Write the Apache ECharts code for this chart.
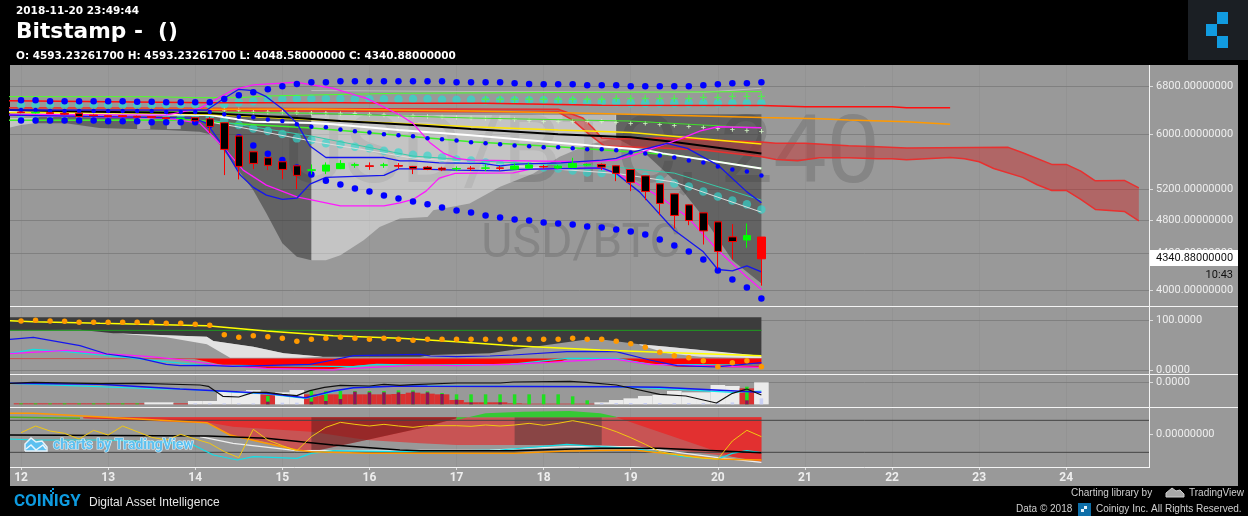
<!DOCTYPE html>
<html><head><meta charset="utf-8">
<style>html,body{margin:0;padding:0;background:#000;overflow:hidden}#c{width:1248px;height:516px}</style>
<script src="https://cdn.jsdelivr.net/npm/echarts@6/dist/echarts.min.js"></script>
</head><body><div id="c"></div>
<script>
// ---------- axis labels ----------
const dayLabels = ['12','13','14','15','16','17','18','19','20','21','22','23','24'];
const priceTicks = [4000,4400,4800,5200,6000,6800];
// ---------- candles (bar index 0..51, 4h bars) ----------
const candleOpen = [6355,6340,6345,6335,6335,6305,6295,6295,6285,6280,6262,6248,6262,6245,6181,5971,5732,5643,5585,5527,5462,5451,5486,5535,5527,5535,5530,5518,5508,5494,5482,5493,5492,5497,5479,5494,5516,5494,5504,5538,5547,5527,5475,5385,5274,5139,4994,4891,4778,4595,4558,4593];
const candleClose = [6345,6350,6330,6320,6280,6295,6280,6282,6272,6268,6250,6255,6213,6123,5768,5518,5561,5533,5475,5391,5470,5537,5561,5542,5518,5540,5522,5484,5475,5469,5488,5486,5497,5491,5523,5537,5510,5523,5561,5544,5508,5419,5294,5171,5012,4858,4795,4667,4424,4540,4611,4341];
const candleLow = [6335,6330,6325,6310,6270,6285,6270,6272,6262,6258,6240,6240,6195,6022,5395,5335,5479,5465,5339,5202,5405,5409,5480,5497,5470,5497,5486,5409,5465,5451,5451,5455,5451,5461,5475,5490,5486,5479,5494,5523,5465,5311,5175,5055,4862,4696,4737,4505,4233,4333,4466,4048];
const candleHigh = [6365,6360,6350,6340,6340,6315,6305,6305,6295,6290,6272,6265,6275,6274,6190,5980,5740,5650,5590,5530,5547,5576,5609,5570,5576,5570,5566,5525,5523,5513,5518,5523,5551,5523,5561,5570,5541,5541,5643,5561,5561,5535,5480,5390,5280,5145,5000,4897,4785,4750,4758,4593];
// ---------- main pane dots ----------
const bbUpperDots = [6552,6552,6535,6535,6535,6535,6535,6535,6528,6528,6518,6518,6518,6518,6574,6638,6690,6742,6795,6836,6866,6866,6884,6884,6884,6884,6884,6884,6884,6884,6866,6866,6866,6866,6849,6836,6831,6831,6831,6813,6813,6813,6795,6795,6795,6795,6795,6813,6831,6849,6849,6866];
const bbLowerDots = [6219,6219,6219,6219,6219,6219,6203,6203,6203,6187,6187,6187,6187,6144,6064,5951,5828,5702,5609,5504,5405,5315,5266,5211,5171,5117,5078,5038,5000,4960,4921,4896,4858,4833,4808,4795,4770,4758,4746,4721,4708,4684,4659,4623,4563,4494,4424,4333,4211,4113,4028,3915];
const bbMidDots = [6389,6389,6372,6372,6372,6372,6372,6372,6372,6372,6356,6356,6356,6356,6318,6278,6268,6235,6208,6155,6117,6107,6075,6044,6028,5997,5982,5966,5935,5920,5904,5874,5859,5844,5828,5813,5798,5798,5783,5768,5768,5753,5723,5708,5677,5647,5605,5576,5518,5475,5447,5391];
const turqUpperDots = [6472,6472,6472,6472,6472,6472,6472,6472,6472,6472,6480,6480,6480,6480,6483,6518,6535,6569,6569,6579,6579,6579,6579,6569,6569,6569,6569,6574,6574,6562,6562,6562,6552,6552,6552,6552,6552,6535,6535,6518,6518,6518,6501,6501,6501,6501,6501,6501,6501,6501,6501,6501];
const turqLowerDots = [6315,6315,6315,6315,6315,6315,6315,6315,6315,6315,6315,6315,6315,6278,6224,6144,6091,6048,6002,5935,5909,5859,5844,5807,5783,5747,5723,5687,5673,5647,5619,5605,5576,5547,5533,5523,5504,5490,5461,5433,5423,5409,5395,5371,5335,5280,5239,5171,5104,5051,5000,4934];
const greenPlusDots = [[32,6569],[33,6569],[34,6569],[35,6569],[36,6569],[37,6569],[38,6569],[39,6569],[40,6569],[41,6585],[42,6585],[43,6585],[44,6585],[45,6585],[46,6585],[47,6602],[48,6602],[49,6619],[50,6619],[51,6619]];
const palePlusDots = [[14,6389],[15,6389],[16,6351],[17,6351],[18,6351],[19,6344],[20,6335],[21,6335],[22,6328],[23,6328],[24,6315],[25,6306],[26,6295],[27,6290],[28,6282],[29,6274],[30,6265],[31,6257],[32,6249],[33,6240],[34,6235],[35,6219],[36,6203],[37,6203],[38,6203],[39,6203],[40,6203],[41,6187],[42,6171],[43,6171],[44,6155],[45,6139],[46,6123],[47,6107],[48,6091],[49,6075],[50,6059],[51,6044]];
// ---------- main pane lines: [bar index, price] as read ----------
const redLine = [[-1,6545],[13,6511],[22,6511],[27,6501],[32,6501],[40,6468],[51,6462],[54,6445],[60,6445],[61,6427],[64,6427]];
const orangeLine = [[-1,6394],[20,6406],[31,6372],[39,6335],[44,6306],[51,6265],[55,6245],[57,6224],[61,6197],[64,6155]];
const greenTop = [[-1,6614],[9,6614],[12,6597],[15,6597],[17,6626],[26,6673],[51,6701]];
const greyTop = [[20,6720],[33,6700],[47,6690],[51,6760]];
const yellowLine = [[-1,6348],[8,6340],[13,6318],[19,6240],[27,6160],[31,6117],[37,6064],[42,6028],[51,5848]];
const blackLine = [[-1,6389],[5,6361],[13,6335],[19,6257],[22,6208],[27,6144],[31,6080],[37,5997],[42,5951],[45,5879],[51,5708]];
const whiteLine = [[-1,6356],[13,6306],[16,6197],[20,6176],[21.5,6155],[26,6064],[31,5982],[38,5848],[43,5757],[44.2,5708],[51,5489]];
const greenLow = [[-1,6219],[12,6224],[14,6176],[20,6096],[25,6002],[31,5883],[37,5807],[45,5683],[51,5487]];
const greenMid = [[-1,6372],[13,6356],[20,6335],[31,6257],[42,6208],[47,6144],[51,6096]];
const tealLine = [[13,6224],[20,5971],[27,5668],[33,5580],[41,5508],[45,5423],[51,5055]];
const paleLine = [[13,6192],[15,6112],[20,5894],[27,5639],[33,5537],[41,5419],[45,5298],[48,5094],[51,4900]];
const magentaUp = [[-1,6318],[10,6306],[12.3,6417],[14.6,6730],[16,6818],[19,6866],[21.5,6760],[23.8,6586],[26.1,6306],[27,6171],[28.2,5863],[29.1,5713],[30,5634],[31,5609],[39,5585],[41,5609],[42.2,5683],[43.8,5807],[45.2,5909],[46.8,6053],[48,6117],[51,6101]];
const magentaLow = [[-1,6306],[10,6257],[12.3,6176],[14,5787],[15.3,5465],[16.9,5256],[19,5099],[22,4981],[25,4981],[26.1,5020],[27,5064],[27.9,5175],[28.8,5353],[29.9,5419],[33.9,5427],[35,5475],[39.9,5498],[41,5419],[42.2,5302],[44,5099],[45.9,4841],[48,4439],[50,4141],[51,4007]];
const blueUp = [[-1,6389],[12.8,6389],[14,6586],[15,6742],[16,6718],[16.9,6614],[18.1,6389],[19,6171],[19.9,5818],[21,5647],[25,5647],[26.1,5599],[27,5599],[28.8,5570],[31.8,5561],[33,5527],[34.2,5551],[37.2,5570],[40,5609],[41,5634],[42.2,5732],[44.5,5859],[45.9,5783],[48,5537],[50,5165],[51,5020]];
const blueLow = [[-1,6306],[11.9,6257],[12.8,6171],[14,5787],[15.1,5395],[16,5226],[16.9,5122],[18,5064],[19,5081],[19.9,5270],[21,5363],[25,5391],[26,5483],[27,5483],[30,5465],[33,5455],[34.2,5475],[40,5498],[41,5419],[42.6,5165],[45,4675],[47,4420],[48,4222],[49,4206],[50,4262],[51,4195]];
const ribbonUpper = [[-1,6427],[37,6400],[38.7,6257],[39.4,6096],[40,5940],[41,5924],[44,5940],[51,5879],[52,5859],[54,5859],[57,5822],[59,5807],[61,5787],[68,5798],[69,5717],[71,5547],[72,5547],[73,5451],[74,5315],[76,5321],[77,5220]];
const ribbonLower = [[-1,6389],[37,6356],[38,6224],[39.2,5986],[40.2,5818],[44,5787],[47,5757],[51,5658],[52,5619],[53.5,5599],[55,5643],[57,5643],[59,5628],[60,5628],[61,5613],[64,5647],[65,5628],[66,5585],[67,5489],[69,5363],[70,5261],[71,5184],[72,5184],[73,5064],[74,4934],[76,4909],[77,4790]];
// ---------- main pane cloud ----------
const cloudLeftTop = [[0.9,6274],[13,6290],[20,6306]];
const cloudLeftBottom = [[0.9,6171],[3.1,6171],[5.4,6096],[10,6064],[12.3,6038],[13.2,5986],[14.6,5566],[16,5188],[16.9,4887],[18,4520],[19,4363],[20,4325]];
const edgeTop = [[-1,6257],[0.9,6257]];
const edgeBottom = [[-1,6091],[0,6144],[0.9,6171]];
const patchOneTop = [[8,6257],[8.9,6257]];
const patchOneBottom = [[8,6080],[8.9,6080]];
const patchTwoTop = [[10.05,6257],[11,6257]];
const patchTwoBottom = [[10.05,6080],[11,6080]];
const cloudMidTop = [[20,6306],[41,6306]];
const cloudMidBottom = [[20,4325],[21,4325],[22,4382],[23.6,4555],[24.7,4716],[26.1,4820],[28,4840],[28.4,4925],[30.9,5012],[33,5233],[35.3,5419],[37.1,5658],[39,5833],[41,5940]];
const cloudRightTop = [[41,6318],[51,6318]];
const cloudRightBottom = [[41,5940],[43,5708],[45,5325],[47,4840],[49,4325],[51,4070]];
// ---------- pane 2 ----------
const p2Ticks = [0,100];
const p2Dots = [98,99.3,98,97.3,95.3,95.3,95.3,95.3,95.3,95.3,93.3,93.3,91.3,89.3,70.7,65.3,68.7,66.7,63.3,57.3,61.3,63.3,65.3,63.3,61.3,63.3,61.3,59.3,61.3,61.3,61.3,61.3,61.3,61.3,61.3,61.3,61.3,61.3,63.3,61.3,61.3,57.3,52.7,45.3,35.3,28.7,24.7,18.7,6.7,14.7,18.7,6.7];
const p2Yellow = [[-0.76,98.7],[0.85,96.7],[5.44,93.3],[12.8,88.7],[16.9,78],[21.5,68.7],[26.1,63.3],[30,56.7],[33.9,48.7],[39.9,40],[44,35.3],[51,28.7]];
const p2Blue = [[-0.76,61.3],[0.85,65.3],[4.06,48.7],[5.9,32],[8.2,23.3],[10,11.3],[10.95,8.7],[12.8,9.3],[14.6,7.3],[19.9,11.3],[21.5,20],[22.9,28.7],[27.5,31.3],[28.2,28],[30,26.7],[32.3,28],[33.9,30],[37.6,36.7],[41,36.7],[43.3,20],[45.2,8.7],[47.9,6],[51,14.7]];
const p2Magenta = [[-0.76,32.7],[3.15,39.3],[5.44,33.3],[8.9,26.7],[11.2,20],[13.5,10],[16.9,3.3],[21.5,0],[23.8,4.7],[27.5,10],[30,8.7],[33.7,11.3],[36.4,15.3],[39.9,21.3],[41,21.3],[43.3,11.3],[51,5.3]];
const p2Cyan = [[-0.76,33.3],[0.85,41.3],[3.15,36.7],[5.44,30],[10,16.7],[12.33,10],[22.9,6.7],[24.5,11.3],[27.5,10],[33.7,11.3],[37.6,23.3],[41,23.3],[43.3,11.3],[51,10]];
const p2RedRule = [[-0.76,22.7],[51,22.7]];
const p2GreenRule = [[-0.76,79.3],[51,79.3]];
const p2DarkTop = [[-0.76,105.3],[51,105.3]];
const p2DarkBottom = [[-0.76,79.3],[4.06,80.7],[6.36,73.3],[12.8,66.7],[13.25,58],[16,46.7],[18.1,33.3],[20.8,26.7],[27.5,26.7],[28.2,30],[32.3,33.3],[34.6,43.3],[38.7,60],[40.3,60],[42.6,51.3],[44.5,46.7],[46.8,40],[51,26.7]];
const p2WhiteATop = [[4.06,80.7],[6.36,73.3],[12.8,66.7],[13.25,58],[16,46.7],[18.1,33.3],[20.8,26.7]];
const p2WhiteABottom = [[4.06,80.7],[6.36,73.3],[10,65.3],[12.8,51.3],[14.4,24.7],[19.2,24.7],[20.8,26.7]];
const p2WhiteBTop = [[42.6,51.3],[44.5,46.7],[46.8,40],[51,28.7]];
const p2WhiteBBottom = [[42.6,50],[44.5,33.3],[46.8,26.7],[51,23.3]];
const p2RedATop = [[11.87,22.7],[37.8,22.7]];
const p2RedABottom = [[11.87,22.7],[14.2,8],[16.9,3.3],[21.5,2],[22.9,8],[24.3,11.3],[27.5,10],[30.7,10],[33.9,13.3],[37.1,16.7],[37.8,23.3]];
const p2RedBTop = [[41,23],[51,23]];
const p2RedBBottom = [[41,22],[43.3,13.3],[45.2,6.7],[49,5.3],[51,5.3]];
// ---------- pane 3 ----------
const histValues = [3,3,3,3,3,3,3,3,3,6,6,3,10,10,38,40,43,30,36,43,30,30,30,30,30,30,31,35,32,30,13,6,6,6,3,2,2,2,2,2,6,13,18,25,28,40,36,36,58,55,48,66];
const histKinds = 'rrrrrrrrrwwrwwwwwrwwrrrrrrrrrrrrrrrrrrrrwwwwwwwwwwrw';
const histGreen = [[0,3],[1,3],[2,3],[3,3],[4,3],[5,3],[6,3],[7,3],[8,3],[17,25],[20,40],[21,40],[22,40],[23,40],[24,40],[25,40],[26,42],[27,42],[28,39],[29,34],[30,30],[31,30],[32,30],[33,30],[34,30],[35,30],[36,30],[37,30],[38,24],[39,12],[50,53]];
const histPurple = [[17,8],[20,8],[21,10],[22,16],[23,38],[24,36],[25,36],[26,36],[27,38],[28,36],[29,31],[30,14],[31,6],[33,6],[50,12]];
const histPale = [[12,3],[13,3],[14,3],[15,3],[16,3],[18,5],[19,5],[40,4],[41,4],[42,4],[43,4],[44,4],[45,4],[46,4],[47,4],[48,4],[49,6],[51,18]];
const macdBlack = [[-0.76,-30],[0.85,0],[5.44,-40],[8.2,-30],[12.33,-80],[12.9,-120],[13.9,-420],[15,-440],[16,-300],[16.9,-300],[18,-360],[19,-400],[19.9,-250],[20.9,-150],[22,-90],[24,-110],[25,-60],[26.1,-90],[27,-70],[30,-20],[33,-20],[33.9,10],[37.8,30],[38.96,0],[41,-80],[44,-360],[45.8,-410],[47.9,-620],[49,-330],[50,-200],[51,-380]];
const macdBlue = [[-0.76,-30],[5.44,-60],[10.95,-200],[16.9,-330],[19.6,-460],[21.5,-260],[22.9,-160],[26.1,-110],[28,-120],[41,-130],[44,-150],[51,-300]];
const macdCyan = [[-0.76,-30],[9.6,-200],[10.95,-200],[16.9,-350],[19.6,-480],[21.5,-280],[22.9,-160],[26.1,-110],[41,-130],[44,-180],[49,-300],[51,-260]];
// ---------- pane 4 ----------
const p4Yellow = [4,24,9,2,-15,11,-3,24,7,-10,-18,-1,-15,-28,-53,-71,14,-18,-35,-50,-8,20,35,29,24,29,24,20,25,25,25,23,27,24,27,32,26,32,40,32,22,7,-11,-31,-53,-61,-68,-73,-75,-21,11,-8];
const p4Orange = [[-0.76,62],[0.85,62],[4.29,54],[12.8,34],[14.4,-3],[16.9,-28],[19,-48],[20,-53],[23.8,-58],[27.5,-58],[34,-58],[37.6,-51],[42.2,-48],[47.9,-75],[51,-78]];
const p4GreenShort = [[-0.76,50],[4.06,47]];
const p4Cyan = [[-0.76,-15],[0.85,-18],[5.9,-18],[10,-25],[11.87,-33],[13.25,-63],[14.9,-78],[16,-68],[19,-73],[20,-58],[21.5,-50],[26.1,-53],[33,-48],[37.6,-31],[39.9,-38],[42.2,-43],[45.6,-68],[48,-75],[49,-58],[50,-50],[51,-56]];
const p4White = [[12.33,-8],[14.6,-28],[19,-50],[32.3,-48],[37.6,-38],[42.2,-38],[48,-71],[51,-85]];
const p4Black = [[-0.76,-3],[12.9,-6],[16.9,-13],[21.5,-33],[26.1,-48],[27.5,-50],[33.9,-50],[39.9,-43],[44,-43],[51,-56]];
const p4RuleHigh = [[-0.76,41],[77.7,41]];
const p4RuleLow = [[-0.76,-55],[77.7,-55]];
const p4PinkTop = [[4.29,50],[51,50]];
const p4PinkBottom = [[4.29,47],[12.8,32],[14.6,-5],[16.9,-25],[19,-48],[20,-53],[23.8,-18],[27.5,-28],[30,-33],[34,-33],[40,-33],[44,-43],[49,-68],[51,-78]];
const p4RedATop = [[4.29,50],[30,50]];
const p4RedABottom = [[4.29,47],[12.8,35],[14.6,22],[20,7],[23.8,-18],[27.5,17],[30,47]];
const p4RedBTop = [[41,50],[51,50]];
const p4RedBBottom = [[41,50],[49,-68],[51,-83]];
const p4DarkATop = [[20,50],[30,50]];
const p4DarkABottom = [[20,-53],[23.8,-18],[27.5,17],[30,47]];
const p4DarkBTop = [[34,50],[40,50]];
const p4DarkBBottom = [[34,-33],[40,-33]];
const p4GreenTop = [[30,42],[32,62],[34.6,67],[37.8,69],[39.9,62],[41,52]];
const p4GreenBottom = [[30,50],[41,50]];

const XMIN = -0.76, XMAX = 77.7;
const dayIdx = dayLabels.map((d,i)=>i*6);
const PLUS = 'path://M4 0h2v4h4v2h-4v4h-2v-4h-4v-2h4z';
const chart = echarts.init(document.getElementById('c'), null, {width:1248,height:516});

const withIdx = a => a.map((v,i)=>[i,v]);
const line = (d,color,width,g,z) => ({type:'line',data:d,xAxisIndex:g,yAxisIndex:g,showSymbol:false,symbol:'none',silent:true,animation:false,clip:true,z:z||4,lineStyle:{color,width:width||1}});
const dots = (d,color,size,g,opacity,sym,z) => ({type:'scatter',data:d,xAxisIndex:g,yAxisIndex:g,symbol:sym||'circle',symbolSize:size,silent:true,animation:false,z:z||3,itemStyle:{color,opacity:opacity==null?1:opacity}});
const band = (up,low,fill,g,z) => ({type:'custom',xAxisIndex:g,yAxisIndex:g,silent:true,animation:false,clip:true,z:z||1,
  data:[[up[0][0],up[0][1]]],encode:{x:0,y:1},
  renderItem:(p,api)=>({type:'polygon',shape:{points:up.concat(low.slice().reverse()).map(q=>api.coord(q))},style:{fill}})});

const DARK='rgba(45,45,45,0.5)', LIGHT='rgba(255,255,255,0.42)';
const candles = candleOpen.map((o,i)=>{
  const item={value:[i,o,candleClose[i],candleLow[i],candleHigh[i]]};
  if(i===candleOpen.length-1) item.itemStyle={color0:'#ff0000',borderColor0:'#ff0000'};
  return item;
});

const series = [
  band(edgeTop,edgeBottom,LIGHT,0),
  band(cloudLeftTop,cloudLeftBottom,DARK,0),
  band(patchOneTop,patchOneBottom,LIGHT,0),
  band(patchTwoTop,patchTwoBottom,LIGHT,0),
  band(cloudMidTop,cloudMidBottom,LIGHT,0),
  band(cloudRightTop,cloudRightBottom,DARK,0),
  band(ribbonUpper,ribbonLower,'rgba(205,40,40,0.45)',0,2),
  line(ribbonUpper,'#e8302f',1.5,0,3),
  line(ribbonLower,'#e8302f',1.5,0,3),
  line(greyTop,'#bdbdbd',1,0),
  line(greenTop,'#4dff2a',1,0),
  line(greenMid,'#3fe02a',1,0),
  line(greenLow,'#3fee2a',1.5,0),
  line(tealLine,'#39c9a8',1,0),
  line(paleLine,'#dddddd',1,0),
  line(orangeLine,'#ff9900',1.5,0),
  line(redLine,'#ff1010',1.5,0),
  line(whiteLine,'#ffffff',2,0),
  line(yellowLine,'#ffe600',1.5,0),
  line(blackLine,'#000000',2,0),
  dots(withIdx(turqUpperDots),'#2fd8cf',8.5,0,0.75),
  dots(withIdx(turqLowerDots),'#2fd8cf',8.5,0,0.65),
  dots(greenPlusDots,'#55e855',7,0,1,PLUS),
  dots(palePlusDots,'#d3f5c5',4.5,0,1,PLUS),
  line(magentaUp,'#ff18ff',1.3,0,5),
  line(magentaLow,'#ff18ff',1.3,0,5),
  line(blueUp,'#1515ee',1.3,0,5),
  line(blueLow,'#1515ee',1.3,0,5),
  dots(withIdx(bbUpperDots),'#0000ff',6.5,0,1,null,6),
  dots(withIdx(bbLowerDots),'#0000ff',6.5,0,1,null,6),
  dots(withIdx(bbMidDots),'#0000ff',4.5,0,1,null,6),
  {type:'candlestick',xAxisIndex:0,yAxisIndex:0,data:candles,barWidth:8,silent:true,animation:false,z:7,clip:true,
   itemStyle:{color:'#00ff00',color0:'#000000',borderColor:'#00ff00',borderColor0:'#ff0000',borderWidth:1}},
  // pane 2
  band(p2DarkTop,p2DarkBottom,'#3c3c3c',1),
  band(p2WhiteATop,p2WhiteABottom,'#e2e2e2',1),
  band(p2WhiteBTop,p2WhiteBBottom,'#e2e2e2',1),
  band(p2RedATop,p2RedABottom,'#ff0000',1,2),
  band(p2RedBTop,p2RedBBottom,'#ff0000',1,2),
  line(p2RedRule,'#c85050',1,1,3),
  line(p2GreenRule,'#1f9a1f',1,1,3),
  line(p2Cyan,'#10e0e0',1.2,1),
  line(p2Magenta,'#ff18ff',1.2,1),
  line(p2Blue,'#1515ee',1.2,1),
  line(p2Yellow,'#ffff00',1.5,1),
  dots(withIdx(p2Dots),'#ff9900',5.5,1,1,null,5),
  // pane 3
  {type:'bar',xAxisIndex:2,yAxisIndex:4,barWidth:14.6,silent:true,animation:false,z:1,
   data:histValues.map((v,i)=>({value:[i,v],itemStyle:{color:histKinds[i]==='w'?'#ececec':'#d93030'}}))},
  {type:'bar',xAxisIndex:4,yAxisIndex:4,barWidth:3.5,barGap:'-100%',silent:true,animation:false,z:2,data:histGreen,itemStyle:{color:'#1fe01f'}},
  {type:'bar',xAxisIndex:4,yAxisIndex:4,barWidth:3.5,barGap:'-100%',silent:true,animation:false,z:2,data:histPurple,itemStyle:{color:'#930f58'}},
  {type:'bar',xAxisIndex:4,yAxisIndex:4,barWidth:3.5,barGap:'-100%',silent:true,animation:false,z:2,data:histPale,itemStyle:{color:'#c9d0f5'}},
  line(macdCyan,'#10e8f0',1.2,2),
  line(macdBlue,'#1515ee',1.5,2),
  line(macdBlack,'#111111',1.2,2),
  // pane 4
  band(p4PinkTop,p4PinkBottom,'rgb(200,84,84)',3),
  band(p4RedATop,p4RedABottom,'rgb(226,48,48)',3),
  band(p4RedBTop,p4RedBBottom,'rgb(226,48,48)',3),
  band(p4DarkATop,p4DarkABottom,'rgba(40,30,30,0.4)',3),
  band(p4DarkBTop,p4DarkBBottom,'rgba(50,50,50,0.42)',3),
  band(p4GreenTop,p4GreenBottom,'#35c935',3),
  line(p4RuleHigh,'#444444',1,3,2),
  line(p4RuleLow,'#444444',1,3,2),
  line(p4GreenShort,'#4fb020',1.5,3),
  line(p4White,'#eeeeee',1.2,3),
  line(p4Cyan,'#12dfe8',1.2,3),
  line(p4Orange,'#ff9900',1.5,3),
  line(p4Black,'#000000',1.5,3),
  line(withIdx(p4Yellow),'#f2c811',1,3,5)
];

const grids=[{left:10,right:99,top:65,height:241},{left:10,right:99,top:308,height:66},{left:10,right:99,top:376,height:31},{left:10,right:99,top:408,height:59}];
const xBase=i=>({type:'value',gridIndex:i,min:XMIN,max:XMAX,
  axisLine:{show:false,onZero:false},axisTick:{show:false,customValues:dayIdx},
  splitLine:{show:true,lineStyle:{color:'rgba(120,120,120,0.18)',width:1}},
  axisLabel:{show:false,customValues:dayIdx}});
const xAxes=[xBase(0),xBase(1),xBase(2),
 Object.assign(xBase(3),{axisTick:{show:true,length:3,lineStyle:{color:'#dddddd'},customValues:dayIdx},
  axisLabel:{show:true,customValues:dayIdx,margin:5,color:'#eeeeee',fontFamily:'Roboto',fontWeight:'bold',fontSize:12,formatter:v=>dayLabels[Math.round(v/6)]}}),
 Object.assign(xBase(2),{show:false})];
const yBase=(i,min,max,ticks,fmt,extra)=>Object.assign({type:'value',gridIndex:i,position:'right',min,max,
  axisLine:{show:false,onZero:false},axisTick:{show:true,length:4,lineStyle:{color:'#dddddd'},customValues:ticks},
  splitLine:{show:true,lineStyle:{color:'#808080',width:1}},
  axisLabel:{customValues:ticks,margin:7,padding:[4,0,0,0],color:'#eeeeee',fontFamily:'Roboto',fontSize:11,formatter:fmt}},extra||{});
const yAxes=[
 yBase(0,3840,7181,priceTicks,v=>Number(v).toFixed(8),{type:'log',logBase:Math.E}),
 yBase(1,-8,124,p2Ticks,v=>Number(v).toFixed(4)),
 yBase(2,-740,190,[0],v=>'0.0000'),
 yBase(3,-99,78,[0],v=>'0.00000000',{splitLine:{show:false}}),
 {type:'value',gridIndex:2,min:-8,max:85,show:false,splitLine:{show:false}}
];
const T=(x,y,text,o)=>({type:'text',x,y,silent:true,z:(o&&o.z)||50,style:Object.assign({text,fill:'#fff',font:'11px "Liberation Sans"',textVerticalAlign:'middle'},o||{})});
const R=(x,y,w,h,fill,z)=>({type:'rect',silent:true,z:z==null?50:z,shape:{x,y,width:w,height:h},style:{fill}});
const H=(x1,x2,y,c)=>({type:'line',silent:true,z:40,shape:{x1,y1:y,x2,y2:y},style:{stroke:c||'#f4f4f4',lineWidth:1}});
const graphic=[
 R(10,65,1228,421,'#999999',-20),
 {type:'text',silent:true,z:-10,x:880,y:206,style:{text:'USD/BTC, 240',fill:'#858585',font:'95px Roboto',textAlign:'right',textVerticalAlign:'bottom'}},
 {type:'text',silent:true,z:-10,x:581,y:269,style:{text:'USD/BTC',fill:'#858585',font:'48px Roboto',textAlign:'center',textVerticalAlign:'bottom'}},
 H(10,1238,306.5),H(10,1238,374.5),H(10,1238,407.5),H(10,1149,467.5),
 {type:'line',silent:true,z:40,shape:{x1:1149.5,y1:65,x2:1149.5,y2:468},style:{stroke:'#f4f4f4',lineWidth:1}},
 R(1150,250,88,16,'#ffffff'),
 T(1156,258,'4340.88000000',{fill:'#111',font:'11px Roboto',z:51}),
 T(1233,275,'10:43',{fill:'#111',font:'11px Roboto',textAlign:'right'}),
 // header
 T(16,11,'2018-11-20 23:49:44',{font:'bold 10.5px "DejaVu Sans"'}),
 T(16,32,'Bitstamp -  ()',{font:'bold 21.7px "DejaVu Sans"'}),
 T(16,56,'O: 4593.23261700 H: 4593.23261700 L: 4048.58000000 C: 4340.88000000',{font:'bold 10.47px "DejaVu Sans"'}),
 R(1188,0,60,60,'#1b1f24'),
 R(1217,12,11,12,'#119be0',51),R(1206,24,11,12,'#119be0',51),R(1217,36,11,12,'#119be0',51),
 // tradingview mark in chart
 {type:'polyline',silent:true,z:60,shape:{points:[[25,451],[25,444],[31,438],[36,442],[42,441],[47,447],[47,451],[25,451]]},style:{fill:'#5cc0f0',stroke:'#e8f4fb',lineWidth:1.5}},
 {type:'polyline',silent:true,z:61,shape:{points:[[26,449],[31,445],[36,450],[43,445],[46,449]]},style:{fill:'none',stroke:'#eaf6fc',lineWidth:1.5}},
 T(53,445,'charts by TradingView',{font:'bold 14px Roboto',fill:'#5cc0f0',stroke:'#dff1fa',lineWidth:1.2,z:60}),
 // footer
 T(14,502,'COINIGY',{font:'bold 17px Roboto',fill:'#0e9be0'}),
 R(52,488,2,2,'#0e9be0'),R(50,490,2,2,'#0e9be0'),R(52,492,2,2,'#0e9be0'),
 T(89,503,'Digital Asset Intelligence',{font:'12px "Liberation Sans"',fill:'#e6e6e6',letterSpacing:0.35}),
 T(1071,493,'Charting library by',{font:'10px "Liberation Sans"',fill:'#cfcfcf',letterSpacing:0.55}),
 {type:'polyline',silent:true,z:50,shape:{points:[[1166,497],[1166,493],[1172,488],[1176,491],[1180,490],[1184,494],[1184,497],[1166,497]]},style:{fill:'#a9a9a9',stroke:'#cfcfcf',lineWidth:1}},
 T(1189,493,'TradingView',{font:'10px "Liberation Sans"',fill:'#cfcfcf',letterSpacing:0.4}),
 T(1016,509,'Data © 2018',{font:'10px "Liberation Sans"',fill:'#cfcfcf',letterSpacing:0.4}),
 R(1078,503,13,13,'#0d6ea8'),R(1084,506,3,3,'#e8f4fb',51),R(1081,509,3,3,'#e8f4fb',51),
 T(1096,509,'Coinigy Inc. All Rights Reserved.',{font:'10px "Liberation Sans"',fill:'#cfcfcf',letterSpacing:0.55})
];
chart.setOption({animation:false,backgroundColor:'#000',grid:grids,xAxis:xAxes,yAxis:yAxes,series,graphic});
</script></body></html>
